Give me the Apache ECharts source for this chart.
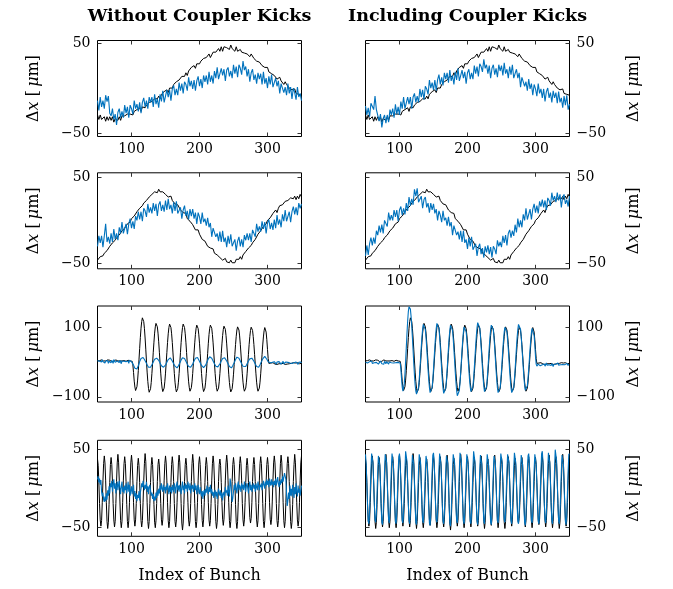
<!DOCTYPE html>
<html><head><meta charset="utf-8">
<script src="https://cdn.jsdelivr.net/npm/echarts@6/dist/echarts.min.js"></script>
<style>html,body{margin:0;padding:0;background:#fff}#c{width:673px;height:589px}</style>
</head><body><div id="c"></div>
<script>
// ---- Data (Δx in µm per bunch index) ----
// rows 1-2 are read every 2nd bunch (50..350), rows 3-4 every bunch (50..350)
const row1Black = [
-30,-35,-30,-35,-33,-32,-37,-32,-36,-32,
-36,-32,-38,-34,-32,-36,-32,-36,-31,-32,
-31,-33,-29,-31,-29,-27,-30,-26,-28,-24,
-26,-22,-26,-21,-19,-22,-19,-21,-16,-17,
-15,-17,-12,-14,-12,-9,-12,-7,-9,-4,
-6,-2,-5,0,2,0,4,2,7,7,
9,7,13,11,13,17,14,19,18,23,
21,25,22,27,29,27,30,28,33,32,
34,32,38,34,37,40,38,40,40,44,
41,46,41,46,46,45,45,43,48,44,
46,41,46,41,43,43,40,42,39,41,
38,40,35,38,37,33,34,30,32,29,
29,25,27,23,23,23,18,19,16,18,
14,16,10,12,12,8,8,4,7,4,
4,0,2,-2,-2,-1,-6,-4,-7,-5,
-8];
const row1BlueLeft = [
-14,-25,-10,-21,-14,-23,-8,-15,-9,-28,
-31,-23,-35,-29,-41,-27,-23,-33,-26,-33,
-19,-28,-21,-33,-19,-23,-29,-14,-23,-18,
-26,-16,-28,-16,-11,-21,-14,-23,-10,-16,
-10,-21,-7,-18,-12,-22,-7,-15,-3,-16,
-14,-2,-10,-2,-14,-1,3,-8,-1,-8,
6,-3,5,-6,7,4,-3,12,2,8,
-1,9,-3,8,13,2,10,0,14,7,
14,4,18,7,14,5,19,11,23,10,
11,22,14,21,8,20,23,13,19,11,
26,16,24,12,26,22,15,30,20,24,
13,21,7,17,21,9,15,5,17,10,
16,4,18,5,11,0,13,4,15,1,
1,11,2,8,-6,5,7,-5,1,-8,
5,-6,1,-12,0,-5,-13,1,-10,-6,
-14];
const row1BlueRight = [
-20,-30,-22,-32,-17,-19,-24,-9,-24,-24,
-37,-29,-44,-34,-30,-39,-30,-38,-24,-30,
-23,-33,-18,-29,-21,-30,-15,-23,-10,-23,
-22,-10,-18,-10,-23,-10,-6,-16,-9,-16,
-1,-10,-2,-13,2,-1,-7,9,0,6,
-2,9,-3,9,15,4,12,3,17,10,
17,6,20,8,14,4,18,9,22,8,
9,20,11,18,5,17,21,10,17,10,
25,16,24,13,27,24,18,32,22,26,
16,25,11,22,26,15,22,12,26,19,
25,14,28,16,21,11,24,15,26,11,
11,21,11,17,1,12,14,2,7,-3,
10,-1,5,-8,4,-1,-9,5,-6,-1,
-11,-1,-15,-4,0,-11,-5,-16,-3,-11,
-5,-17,-4,-16,-11,-22,-9,-19,-8,-24,
-18];
const row2Black = [
-46,-48,-42,-44,-41,-38,-40,-35,-35,-30,
-31,-26,-28,-23,-20,-21,-17,-18,-12,-12,
-9,-10,-4,-5,-2,2,0,5,5,10,
9,14,12,17,20,19,23,22,27,27,
30,28,33,32,32,36,33,34,33,34,
30,32,27,28,28,23,24,19,21,18,
17,12,14,9,8,8,2,3,-1,0,
-5,-5,-11,-10,-11,-16,-17,-22,-20,-24,
-25,-30,-28,-32,-33,-33,-38,-37,-40,-39,
-43,-41,-46,-45,-44,-48,-47,-49,-46,-49,
-47,-49,-45,-47,-45,-42,-45,-40,-40,-36,
-37,-32,-34,-29,-26,-26,-22,-22,-16,-15,
-12,-13,-7,-7,-4,0,-2,3,3,8,
7,12,9,14,17,15,18,17,22,21,
23,21,26,24,25,28,24,28,25,30,
27];
const row2BlueLeft = [
-30,-18,-26,-18,-31,-18,-4,-25,-19,-27,
-15,-25,-10,-22,-15,-23,-8,-15,-2,-15,
-15,-4,-16,-4,2,-9,-1,-10,5,0,
10,1,10,-1,14,11,4,19,9,15,
8,20,11,19,5,18,22,11,18,10,
23,12,25,13,18,8,21,11,22,8,
6,15,2,12,17,5,11,1,13,5,
13,2,9,-4,9,4,-4,9,-2,2,
-6,3,-8,-3,-19,-9,-7,-19,-15,-24,
-13,-25,-12,-25,-20,-31,-18,-27,-16,-30,
-32,-22,-35,-24,-19,-30,-22,-31,-17,-23,
-15,-23,-15,-25,-11,-13,-19,-4,-13,-7,
-13,-1,-10,-2,-15,-3,1,-10,-3,-11,
1,-9,6,-5,1,-8,7,-1,12,-1,
-1,10,-2,10,16,7,15,6,20,14,
19];
const row2BlueRight = [
-41,-29,-40,-27,-20,-29,-20,-27,-12,-17,
-6,-14,-5,-15,0,-2,-7,9,0,6,
0,12,4,12,-1,12,16,6,14,7,
20,11,27,17,25,18,36,28,37,21,
19,28,14,24,27,15,20,9,20,12,
19,8,13,0,11,6,-2,11,0,3,
-6,4,-7,-2,-17,-6,-4,-17,-13,-22,
-12,-25,-12,-26,-22,-33,-20,-30,-19,-34,
-36,-27,-41,-31,-27,-39,-32,-43,-30,-37,
-29,-39,-31,-43,-30,-33,-39,-23,-30,-25,
-31,-18,-26,-17,-29,-15,-11,-20,-12,-18,
-5,-14,2,-8,0,-8,7,0,14,1,
2,13,1,13,19,9,17,8,22,16,
24,15,23,12,26,23,17,32,23,28,
21,32,23,30,15,27,30,19,24,16,
28];
const row3Black = [
3,5,2,4,1,3,6,2,4,3,
2,5,3,1,4,6,2,3,5,2,
4,1,3,5,2,4,3,6,2,4,
3,2,5,3,4,1,3,5,2,4,
6,3,2,4,3,5,2,4,3,5,
3,2,-8,-30,-55,-72,-82,-82,-71,-52,
-25,6,39,70,97,116,127,127,116,97,
69,37,3,-29,-56,-76,-87,-87,-77,-59,
-33,-4,28,57,83,101,111,111,101,83,
58,28,-2,-32,-57,-75,-85,-85,-75,-57,
-32,-3,27,56,81,99,109,109,99,81,
56,26,-4,-33,-58,-76,-86,-86,-76,-58,
-33,-4,27,56,81,99,109,109,99,81,
57,27,-3,-32,-57,-74,-84,-84,-74,-57,
-33,-4,26,55,79,97,106,106,96,78,
54,25,-5,-33,-58,-75,-85,-85,-75,-58,
-33,-5,25,54,79,97,106,106,97,79,
55,26,-4,-33,-57,-74,-84,-84,-75,-57,
-33,-5,24,52,76,94,103,103,94,76,
52,23,-6,-35,-59,-76,-86,-86,-77,-59,
-35,-7,22,50,74,92,101,101,92,75,
51,23,-6,-34,-58,-75,-84,-84,-75,-58,
-34,-6,22,50,73,91,100,100,91,73,
50,22,-6,-34,-58,-75,-84,-84,-75,-58,
-34,-7,21,49,72,90,99,98,86,64,
36,10,-4,-6,-5,-3,-6,-4,-2,-5,
-4,-6,-3,-5,-7,-4,-2,-5,-6,-3,
-5,-3,-6,-4,-2,-5,-7,-4,-3,-6,
-4,-2,-5,-6,-3,-4,-7,-5,-2,-4,
-6,-3,-5,-4,-2,-6,-4,-5,-3,-5,
-4];
const row3BlueLeft = [
4,-1,6,2,-3,5,0,7,1,-2,
5,-3,3,8,-1,4,-4,2,6,0,
-2,5,1,-4,7,2,-1,4,-3,3,
6,0,-2,5,1,-5,3,7,-1,2,
-3,4,1,6,-2,3,-4,5,2,0,
1,-1,-4,-9,-14,-18,-21,-22,-20,-16,
-11,-5,1,6,10,12,14,13,11,7,
4,0,-4,-8,-12,-15,-17,-16,-15,-12,
-8,-4,0,5,8,10,12,11,10,8,
5,1,-3,-7,-11,-14,-16,-15,-14,-12,
-9,-5,-1,4,7,10,11,12,9,7,
3,-1,-5,-9,-12,-15,-16,-17,-14,-11,
-7,-3,2,6,9,12,13,12,10,6,
2,-2,-6,-10,-13,-16,-17,-15,-13,-10,
-6,-1,3,7,11,13,14,13,10,6,
2,-2,-6,-10,-13,-15,-16,-16,-13,-9,
-5,0,4,9,12,15,16,14,11,7,
3,-1,-5,-9,-12,-14,-15,-14,-12,-9,
-5,-1,3,7,10,12,13,12,10,7,
3,-1,-5,-9,-13,-16,-18,-17,-14,-10,
-6,-2,3,7,11,14,15,14,11,7,
3,-1,-5,-9,-12,-14,-15,-15,-13,-9,
-5,-1,3,6,9,11,12,11,9,6,
2,-2,-6,-10,-13,-15,-16,-15,-12,-8,
-4,1,5,9,12,14,16,15,12,8,
4,1,-1,-3,-2,0,-4,-1,-5,-2,
1,-4,-2,-6,0,-3,-5,1,-4,-2,
-6,-1,-3,2,-5,-2,-7,0,-3,-5,
-1,-4,2,-3,-6,-1,-4,1,-5,-2,
-3,-6,0,-4,-2,-7,-1,-3,-5,0,
-3];
const row3BlueRight = [
-1,-5,2,-3,0,-6,1,-4,-2,3,
-4,0,-7,-2,2,-5,-1,-3,1,-6,
-2,-4,3,-1,-5,0,-3,-6,2,-2,
-5,1,-3,-1,-6,0,-4,2,-2,-5,
0,-3,-6,1,-2,-4,2,-1,-5,0,
0,-3,-20,-48,-72,-84,-80,-63,-35,2,
42,82,118,145,159,161,152,132,104,70,
33,-4,-38,-66,-84,-92,-92,-87,-73,-50,
-21,11,42,71,94,108,113,108,93,71,
42,10,-22,-51,-73,-88,-93,-88,-73,-50,
-21,12,44,73,96,111,116,111,96,73,
43,11,-22,-52,-75,-90,-95,-90,-75,-53,
-24,8,40,69,91,106,111,106,91,67,
37,5,-29,-58,-82,-97,-102,-97,-82,-59,
-30,2,34,63,86,101,106,101,87,66,
38,8,-22,-50,-71,-85,-90,-85,-70,-47,
-18,14,46,75,98,113,118,113,98,75,
46,14,-18,-47,-70,-85,-90,-85,-71,-49,
-21,10,42,70,92,106,111,106,92,69,
41,9,-23,-51,-74,-88,-93,-88,-74,-52,
-25,6,37,64,86,100,105,100,86,64,
37,6,-25,-52,-74,-88,-93,-88,-73,-50,
-22,10,42,71,93,108,113,108,94,72,
44,14,-17,-45,-67,-81,-86,-81,-68,-47,
-21,8,37,63,84,97,102,95,76,48,
16,-6,-12,-9,-6,-10,-5,-11,-7,-13,
-8,-4,-10,-6,-12,-7,-3,-9,-11,-5,
-8,-12,-6,-10,-4,-9,-13,-7,-5,-10,
-6,-11,-8,-3,-9,-12,-6,-8,-4,-10,
-7,-5,-11,-8,-6,-9,-4,-7,-10,-6,
-8];
const row4Black = [
38,30,8,-19,-40,-48,-41,-18,10,32,
42,33,10,-18,-42,-51,-43,-20,8,31,
40,31,9,-19,-40,-49,-42,-19,9,33,
44,34,11,-17,-41,-50,-42,-18,10,32,
41,32,9,-20,-42,-50,-41,-18,11,33,
43,33,10,-18,-40,-48,-40,-19,9,30,
39,30,8,-19,-41,-49,-41,-18,10,32,
45,35,11,-18,-42,-51,-42,-19,8,30,
40,31,9,-20,-43,-50,-41,-19,9,31,
38,29,8,-19,-40,-47,-40,-17,10,32,
42,33,10,-18,-41,-50,-42,-20,8,31,
41,32,9,-19,-42,-49,-40,-18,10,33,
43,34,11,-19,-44,-53,-44,-20,9,31,
39,30,8,-18,-40,-48,-41,-19,9,32,
44,34,10,-19,-42,-50,-42,-18,10,33,
41,31,9,-20,-41,-49,-40,-18,8,30,
40,31,9,-18,-40,-48,-41,-19,10,32,
42,33,10,-19,-42,-51,-43,-20,9,31,
38,30,8,-18,-39,-47,-39,-17,11,33,
43,33,10,-18,-41,-50,-42,-19,9,31,
40,31,9,-20,-43,-51,-42,-18,10,32,
41,32,10,-19,-40,-48,-40,-18,8,30,
39,30,8,-17,-37,-44,-38,-18,9,31,
40,31,9,-18,-40,-49,-41,-19,10,32,
41,32,10,-19,-42,-50,-41,-18,9,31,
40,31,8,-18,-39,-46,-39,-17,11,33,
42,33,10,-19,-41,-49,-41,-19,9,32,
43,34,11,-18,-41,-50,-42,-18,10,32,
41,32,9,-19,-42,-51,-43,-20,9,31,
44,34,10,-18,-40,-48,-41,-18,10,33,
42];
const row4BlueLeft = [
12,16,8,13,5,11,-4,-10,-5,-14,
-17,-10,-16,-6,-14,-2,-9,3,-6,7,
2,10,-4,5,12,0,7,-6,3,9,
-2,5,10,0,-7,3,9,-4,2,-6,
4,-2,7,-6,0,9,-4,5,-9,-2,
3,-7,0,5,-10,-3,-13,-6,-16,-8,
-12,-3,-15,-5,0,7,2,10,4,-2,
5,0,9,-4,3,-7,2,5,-2,-9,
-5,-13,-7,-16,-10,-15,-5,-12,-2,-9,
0,-6,4,-2,7,0,-4,5,-2,2,
-6,4,-2,7,0,-7,4,-4,2,-6,
5,0,-4,7,2,-6,4,9,-2,4,
-4,5,0,-7,2,9,-2,4,-6,7,
0,5,-4,9,2,-2,7,-6,4,0,
5,-4,2,7,-2,4,-7,0,5,-4,
-7,2,-5,-10,-3,-13,-5,-2,-9,0,
-5,4,-2,-7,2,-4,5,-6,0,-9,
-4,-12,-5,-2,-10,-4,-13,-7,0,-5,
-9,-2,-12,-5,-15,-7,-4,-10,2,-5,
-2,-9,4,-4,-10,13,7,-5,-17,-12,
-4,5,-2,7,0,-6,4,9,-2,5,
2,-4,7,0,5,-2,9,2,-4,4,
7,0,-6,4,9,-2,5,-4,2,7,
0,5,-4,7,2,-2,9,4,-2,5,
2,7,-2,4,10,5,0,9,4,12,
5,10,2,13,7,4,12,5,9,2,
10,5,13,4,9,15,7,2,10,5,
12,7,16,9,15,20,22,12,-6,-22,
-15,-5,-13,4,-9,0,-10,5,-4,-12,
2,-7,7,-4,-10,4,-5,0,-9,-2,
4];
const row4BlueRight = [
44,31,6,-22,-42,-45,-30,-4,24,45,
47,33,7,-20,-40,-43,-31,-6,22,42,
44,30,5,-23,-43,-46,-32,-5,23,44,
46,34,8,-20,-40,-44,-30,-4,25,45,
43,31,6,-22,-42,-45,-31,-6,22,41,
45,32,7,-21,-41,-44,-30,-5,24,48,
49,35,8,-20,-41,-45,-32,-6,22,43,
44,31,6,-22,-43,-46,-31,-4,24,44,
45,33,7,-21,-41,-44,-30,-5,23,42,
42,30,5,-24,-44,-47,-33,-7,21,43,
46,34,8,-20,-40,-43,-30,-4,25,45,
43,31,6,-22,-42,-45,-32,-6,22,42,
44,32,7,-23,-44,-48,-33,-5,23,44,
45,33,7,-21,-41,-44,-31,-5,24,46,
47,34,8,-20,-41,-45,-31,-6,23,44,
46,32,7,-22,-42,-45,-30,-4,25,48,
48,34,8,-21,-42,-46,-32,-5,22,43,
44,31,6,-22,-42,-45,-31,-6,23,44,
43,30,5,-23,-43,-46,-32,-6,22,42,
44,32,7,-21,-41,-44,-30,-4,24,45,
45,33,8,-20,-40,-43,-30,-5,23,44,
46,33,7,-21,-41,-45,-31,-4,25,46,
47,33,7,-21,-42,-45,-31,-6,22,43,
44,31,6,-22,-43,-47,-33,-6,22,42,
45,32,7,-21,-41,-44,-30,-5,24,44,
43,31,6,-22,-42,-45,-31,-5,23,45,
48,34,8,-20,-40,-44,-30,-4,24,46,
47,33,7,-21,-41,-45,-31,-5,25,50,
52,36,9,-20,-41,-45,-32,-6,22,43,
45,32,7,-22,-42,-46,-32,-5,23,44,
45];
const columnTitles = ['Without Coupler Kicks', 'Including Coupler Kicks'];
const xTickValues = [100, 200, 300];
const yRanges = [[-54, 53], [-56, 55], [-115, 161], [-61, 62]];
const yTickValues = [[-50, 50], [-50, 50], [-100, 100], [-50, 50]];
const xLabel = 'Index of Bunch';

// bunch index positions
const bunchEvery2 = [], bunchEvery1 = [];
for (let b = 50; b <= 350; b += 2) bunchEvery2.push(b);
for (let b = 50; b <= 350; b += 1) bunchEvery1.push(b);

const rows = [
  {x: bunchEvery2, black: row1Black, blue: [row1BlueLeft, row1BlueRight]},
  {x: bunchEvery2, black: row2Black, blue: [row2BlueLeft, row2BlueRight]},
  {x: bunchEvery1, black: row3Black, blue: [row3BlueLeft, row3BlueRight]},
  {x: bunchEvery1, black: row4Black, blue: [row4BlueLeft, row4BlueRight]}
];
function pairs(xs, ys){ const n=Math.min(xs.length, ys.length); const out=[]; for(let i=0;i<n;i++) out.push([xs[i], ys[i]]); return out; }

const FONT = 'DejaVu Serif';
const colLeft = [97.5, 365.5], rowTop = [40.5, 172.8, 306, 440.3], W = 204, H = 96;
const grids = [], xAxes = [], yAxes = [], series = [];
const fmt = v => v < 0 ? '\u2212' + Math.abs(v) : String(v);
const tickStyle = {inside: true, length: 4, lineStyle: {color: '#333', width: 1}};

for (let r = 0; r < 4; r++) {
  for (let c = 0; c < 2; c++) {
    const gi = r * 2 + c;
    grids.push({left: colLeft[c], top: rowTop[r], width: W, height: H, show: true,
      borderColor: '#000', borderWidth: 1, backgroundColor: 'transparent'});
    const xBase = {gridIndex: gi, type: 'value', min: 50, max: 350,
      axisLine: {show: false, onZero: false}, splitLine: {show: false},
      axisTick: Object.assign({customValues: xTickValues}, tickStyle)};
    xAxes.push(Object.assign({}, xBase, {position: 'bottom',
      axisLabel: {customValues: xTickValues, fontFamily: FONT, fontSize: 14, color: '#000', margin: 6},
      name: r === 3 ? xLabel : '', nameLocation: 'middle', nameGap: 32,
      nameTextStyle: {fontFamily: FONT, fontSize: 16, color: '#000'}}));
    xAxes.push(Object.assign({}, xBase, {position: 'top', axisLabel: {show: false}}));
    const yBase = {gridIndex: gi, type: 'value', min: yRanges[r][0], max: yRanges[r][1],
      axisLine: {show: false, onZero: false}, splitLine: {show: false},
      axisTick: Object.assign({customValues: yTickValues[r]}, tickStyle)};
    yAxes.push(Object.assign({}, yBase, {position: c === 0 ? 'left' : 'right',
      axisLabel: {customValues: yTickValues[r], formatter: fmt, fontFamily: FONT, fontSize: 14, color: '#000', margin: 7},
      name: '\u0394{i|x} [\u2009{i|\u03bc}m]', nameLocation: 'middle', nameRotate: 90, nameGap: 56,
      nameTextStyle: {fontFamily: FONT, fontSize: 16, color: '#000',
        rich: {i: {fontFamily: FONT, fontSize: 16, fontStyle: 'italic', color: '#000'}}}}));
    yAxes.push(Object.assign({}, yBase, {position: c === 0 ? 'right' : 'left', axisLabel: {show: false}}));
    const row = rows[r];
    series.push({type: 'line', xAxisIndex: 2 * gi, yAxisIndex: 2 * gi, data: pairs(row.x, row.black),
      showSymbol: false, symbol: 'none', silent: true, z: 2,
      lineStyle: {color: '#000', width: 1}});
    series.push({type: 'line', xAxisIndex: 2 * gi, yAxisIndex: 2 * gi, data: pairs(row.x, row.blue[c]),
      showSymbol: false, symbol: 'none', silent: true, z: 3,
      lineStyle: {color: '#0072BD', width: 1.1}});
  }
}

const chart = echarts.init(document.getElementById('c'), null, {renderer: 'canvas'});
chart.setOption({
  animation: false,
  backgroundColor: '#fff',
  grid: grids, xAxis: xAxes, yAxis: yAxes, series: series,
  graphic: columnTitles.map((t, c) => ({type: 'text', x: colLeft[c] + W / 2, y: 16,
    style: {text: t, fontFamily: FONT, fontWeight: 'bold', fontSize: 17.5, fill: '#000',
      textAlign: 'center', textVerticalAlign: 'middle'}}))
});
</script></body></html>
